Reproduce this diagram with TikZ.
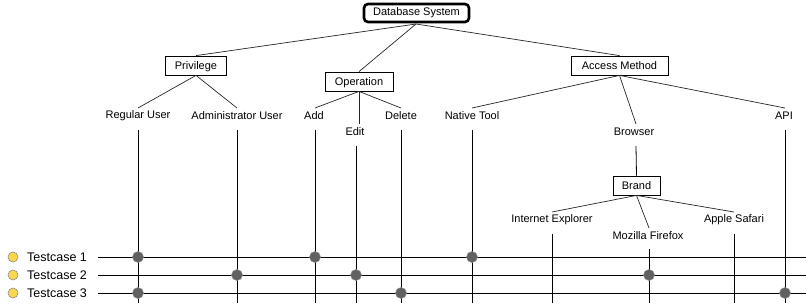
\documentclass[tikz,border=0pt]{standalone}
\usepackage{fontspec}
\setmainfont{Liberation Sans}
\begin{document}
\begin{tikzpicture}[x=1pt,y=-1pt,
  every node/.style={font=\fontsize{11}{12}\selectfont},
  catbox/.style={draw,line width=0.8pt,inner sep=0pt,minimum height=19pt,text depth=0pt},
  rootbox/.style={draw,line width=2.6pt,rounded corners=4pt,inner sep=0pt,minimum height=18pt,minimum width=105pt},
  leaf/.style={inner sep=1pt},
  edge/.style={line width=0.7pt,draw=black!85},
  vline/.style={line width=0.8pt},
  hline/.style={line width=0.8pt},
  tcdot/.style={circle,fill=black!62,draw=black!45,line width=0.5pt,minimum size=11pt,inner sep=0pt},
  tcmark/.style={circle,fill=yellow!60!orange!70,draw=black!45,line width=0.6pt,minimum size=10pt,inner sep=0pt},
  tclabel/.style={anchor=west,inner sep=0pt,font=\fontsize{12.5}{13}\selectfont}]
\useasboundingbox (0,0) rectangle (806,303);
% root and categories
\node[rootbox] (db) at (416.5,13) {Database System};
\node[catbox,minimum width=61pt] (priv) at (196,65.5) {Privilege};
\node[catbox,minimum width=68pt] (oper) at (359,81.5) {Operation};
\node[catbox,minimum width=97pt] (acc) at (619.5,65.5) {Access Method};
\node[catbox,minimum width=47pt] (brand) at (636.5,185.5) {Brand};
% leaves
\node[leaf] (ru) at (138,116) {Regular User};
\node[leaf] (au) at (237,116) {Administrator User};
\node[leaf] (add) at (314,116) {Add};
\node[leaf] (edit) at (355,132) {Edit};
\node[leaf] (del) at (401,116) {Delete};
\node[leaf] (nt) at (472,116) {Native Tool};
\node[leaf] (br) at (634,132) {Browser};
\node[leaf] (api) at (784,116) {API};
\node[leaf] (ie) at (552,220) {Internet Explorer};
\node[leaf] (ff) at (648,236) {Mozilla Firefox};
\node[leaf] (sf) at (734,220) {Apple Safari};
% tree edges
\coordinate (dbb) at (416,24);
\draw[edge] (dbb) -- (priv.north);
\draw[edge] (dbb) -- (oper.north);
\draw[edge] (dbb) -- (acc.north);
\draw[edge] (priv.south) -- (138,108);
\draw[edge] (priv.south) -- (237,108);
\draw[edge] (oper.south) -- (315,108);
\draw[edge] (oper.south) -- (359,124);
\draw[edge] (oper.south) -- (401,108);
\draw[edge] (acc.south) -- (472,108);
\draw[edge] (acc.south) -- (636,124);
\draw[edge] (acc.south) -- (785,108);
\draw[edge] (brand.south) -- (552,212);
\draw[edge] (brand.south) -- (649,228);
\draw[edge] (brand.south) -- (734,212);
% testcase rows
\node[tcmark] (m1) at (13,257) {};
\node[tcmark] (m2) at (13,275) {};
\node[tcmark] (m3) at (13,293) {};
\node[tclabel] (t1) at (27,257) {Testcase 1};
\node[tclabel] (t2) at (27,275) {Testcase 2};
\node[tclabel] (t3) at (27,293) {Testcase 3};
\coordinate (h1a) at (98,257); \coordinate (h1b) at (806,257);
\coordinate (h2a) at (98,275); \coordinate (h2b) at (806,275);
\coordinate (h3a) at (98,293); \coordinate (h3b) at (806,293);
\draw[hline] (h1a) -- (h1b);
\draw[hline] (h2a) -- (h2b);
\draw[hline] (h3a) -- (h3b);
% vertical lines
\draw[vline] (138,130) -- (138,303);
\draw[vline] (237,130) -- (237,303);
\draw[vline] (315,130) -- (315,303);
\draw[vline] (356,146) -- (356,303);
\draw[vline] (401,130) -- (401,303);
\draw[vline] (472,130) -- (472,303);
\draw[vline] (636,146) -- (brand.north);
\draw[vline] (785,130) -- (785,303);
\draw[vline] (552,234) -- (552,303);
\draw[vline] (649,249) -- (649,303);
\draw[vline] (734,234) -- (734,303);
% dots
\node[tcdot] (d11) at (138,257) {};
\node[tcdot] (d12) at (315,257) {};
\node[tcdot] (d13) at (472,257) {};
\node[tcdot] (d21) at (237,275) {};
\node[tcdot] (d22) at (356,275) {};
\node[tcdot] (d23) at (649,275) {};
\node[tcdot] (d31) at (138,293) {};
\node[tcdot] (d32) at (401,293) {};
\node[tcdot] (d33) at (785,293) {};
\end{tikzpicture}
\end{document}
